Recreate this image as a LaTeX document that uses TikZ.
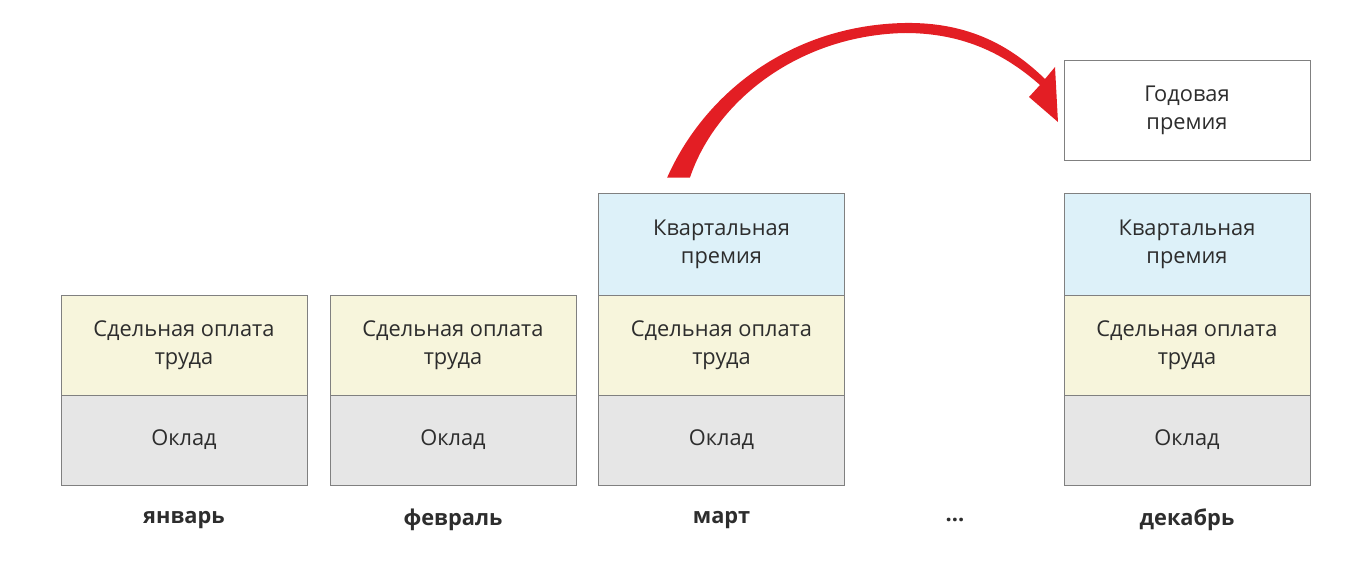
\documentclass[tikz,border=0pt]{standalone}
\usepackage{fontspec}
\setmainfont{Open Sans}
\usepackage{tikz}
\usetikzlibrary{calc, positioning, arrows.meta}
\usepackage{xcolor}
\definecolor{pieceBg}{RGB}{247, 245, 220}
\definecolor{salaryBg}{RGB}{230, 230, 230}
\definecolor{quarterBg}{RGB}{221, 241, 249}
\definecolor{cellLine}{RGB}{128, 128, 128}
\definecolor{bonusRed}{RGB}{227, 30, 36}
\definecolor{textGrey}{RGB}{45, 45, 45}

\tikzset{
  cell/.style={draw=cellLine, line width=0.6pt, minimum width=6.15cm,
    minimum height=2.5cm, align=center, inner sep=0pt, outer sep=0pt,
    font=\fontsize{15.5}{20}\selectfont, text=textGrey},
  salary/.style={cell, fill=salaryBg, minimum height=2.25cm},
  piece/.style={cell, fill=pieceBg},
  quarter/.style={cell, fill=quarterBg, minimum height=2.53cm},
  annual/.style={cell, fill=white},
  month/.style={font=\fontsize{15.5}{18}\selectfont\bfseries, text=textGrey}
}

\begin{document}
\begin{tikzpicture}[x=0.025cm, y=-0.025cm]
  \useasboundingbox (0,0) rectangle (1359,570);
  % salary at the bottom, pieces stacked on top
  \node[salary] (okl1) at (184, 440) {Оклад};
  \node[piece, above=0pt of okl1] (sd1) {Сдельная оплата\\труда};
  \node[salary] (okl2) at (453, 440) {Оклад};
  \node[piece, above=0pt of okl2] (sd2) {Сдельная оплата\\труда};
  \node[salary] (okl3) at (721.5, 440) {Оклад};
  \node[piece, above=0pt of okl3] (sd3) {Сдельная оплата\\труда};
  \node[quarter, above=0pt of sd3] (kv3) {Квартальная\\премия};
  \node[salary] (okl12) at (1187, 440) {Оклад};
  \node[piece, above=0pt of okl12] (sd12) {Сдельная оплата\\труда};
  \node[quarter, above=0pt of sd12] (kv12) {Квартальная\\премия};
  \node[annual] (god12) at (1187, 110) {Годовая\\премия};

  % month names
  \node[month] (m1) at (184, 520) {январь};
  \node[month] (m2) at (453, 520) {февраль};
  \node[month] (m3) at (721.5, 520) {март};
  \node[month] (mdots) at (955, 520) {...};
  \node[month] (m12) at (1187, 520) {декабрь};

  % tapered red arrow from the quarter bonus to the annual bonus
  \coordinate (tailL) at ([xshift=-1.36cm, yshift=0.4cm]kv3.north);
  \coordinate (tailR) at ([xshift=-0.79cm, yshift=0.4cm]kv3.north);
  \coordinate (tip) at ([xshift=-0.15cm, yshift=-0.3cm]god12.west);
  \fill[bonusRed] (tailL) .. controls (705,92) and (792,25) .. (905,23)
    .. controls (970,22) and (1012,47) .. (1045,79)
    -- (1055,67) -- (tip) -- (1029,97) -- (1040,85)
    .. controls (1007,56) and (966,33) .. (905,33)
    .. controls (800,35) and (716,100) .. (tailR) -- cycle;
\end{tikzpicture}
\end{document}
